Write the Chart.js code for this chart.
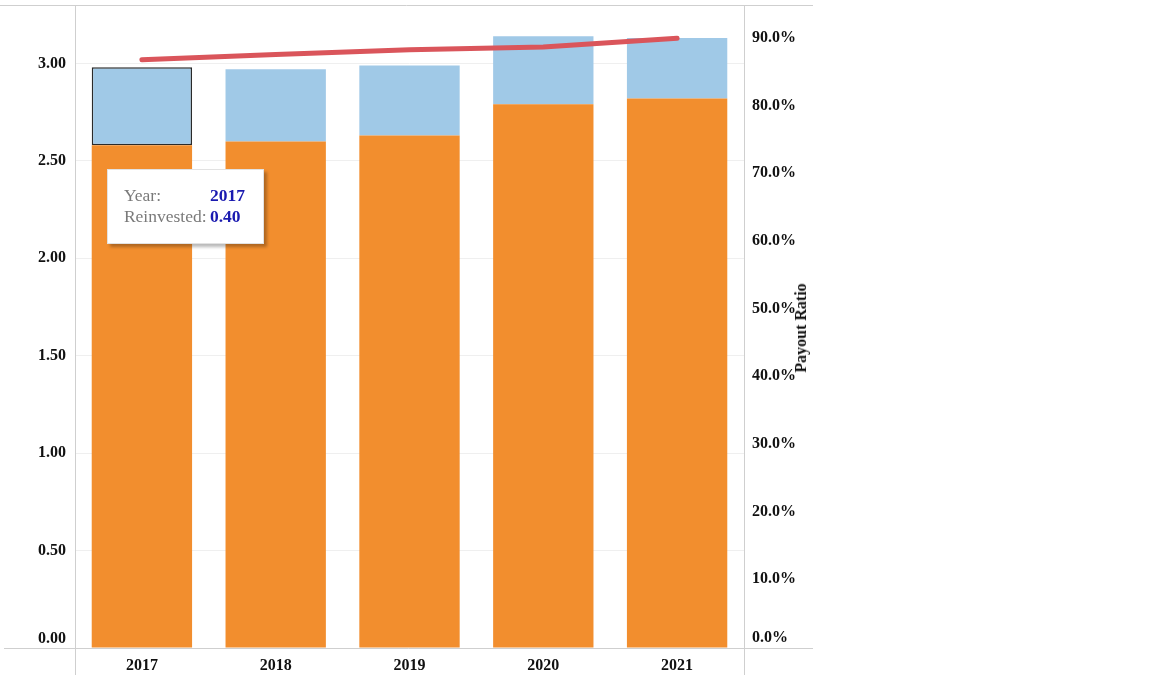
<!DOCTYPE html>
<html>
<head>
<meta charset="utf-8">
<script src="https://cdn.jsdelivr.net/npm/chart.js@4"></script>
<style>
  html, body { margin: 0; padding: 0; background: #fff; }
  #wrap { position: relative; width: 1164px; height: 691px; }
  #tip {
    position: absolute; width: 157px; height: 75px; box-sizing: border-box;
    background: #fff; border: 1px solid #e2e2e2;
    box-shadow: 3px 3px 3px rgba(0,0,0,0.28);
    font-family: "Liberation Serif", "Times New Roman", serif; font-size: 17.5px;
    padding: 15px 0 0 16px; line-height: 21px;
  }
  #tip .k { color: #7a7a7a; display: inline-block; width: 86px; }
  #tip .v { color: #1a1ab0; font-weight: bold; }
  #ytitle {
    position: absolute; left: 801px; top: 328px; white-space: nowrap;
    transform: translate(-50%, -50%) rotate(-90deg);
    font-family: "Liberation Serif", "Times New Roman", serif; font-size: 16px; font-weight: bold; color: #111;
  }
</style>
</head>
<body>
<div id="wrap">
  <canvas id="chart"></canvas>
  <div id="ytitle">Payout Ratio</div>
  <div id="tip"><span class="k">Year:</span><span class="v" id="tipYear"></span><br><span class="k">Reinvested:</span><span class="v" id="tipVal"></span></div>
</div>
<script>
// Werte
const years = ['2017', '2018', '2019', '2020', '2021'];
const dividends = [2.58, 2.60, 2.63, 2.79, 2.82];
const reinvested = [0.40, 0.37, 0.36, 0.35, 0.31];
const payoutRatio = [0.869, 0.877, 0.884, 0.888, 0.901];

const serif = '"Liberation Serif", "Times New Roman", serif';
const tickFont = { family: serif, size: 16, weight: 'bold' };

// Rahmenlinien wie im Original (ragen über die Plotfläche hinaus)
const framePlugin = {
  id: 'frame',
  afterDraw(chart) {
    const { ctx, chartArea: a } = chart;
    ctx.save();
    ctx.strokeStyle = '#cfcfcf';
    ctx.lineWidth = 1;
    ctx.beginPath();
    ctx.moveTo(0, a.top + 0.5); ctx.lineTo(a.right + 69, a.top + 0.5);
    ctx.moveTo(4, a.bottom + 0.5); ctx.lineTo(a.right + 69, a.bottom + 0.5);
    ctx.moveTo(a.left + 0.5, a.top); ctx.lineTo(a.left + 0.5, a.bottom + 27);
    ctx.moveTo(a.right + 0.5, a.top); ctx.lineTo(a.right + 0.5, a.bottom + 27);
    ctx.stroke();
    ctx.restore();
  }
};

function noPad(s) {
  s.paddingTop = 0; s.paddingBottom = 0; s.paddingLeft = 0; s.paddingRight = 0;
}

// unterstes Label etwas über die Achse heben (leere zweite Zeile)
function lift(text, v) {
  return v === 0 ? [text, ''] : text;
}

const chart = new Chart(document.getElementById('chart'), {
  type: 'bar',
  data: {
    labels: years,
    datasets: [
      { type: 'line', label: 'Payout Ratio', data: payoutRatio, yAxisID: 'y1', order: 0,
        borderColor: '#da555b', borderWidth: 5, pointRadius: 0, borderCapStyle: 'round', tension: 0 },
      { label: 'Dividend', data: dividends, backgroundColor: '#f28e2e', order: 1, stack: 's' },
      { label: 'Reinvested', data: reinvested, backgroundColor: '#a0c9e7', order: 2, stack: 's',
        borderColor: '#2a2a2a', borderWidth: years.map((y, i) => i === 0 ? 1.5 : 0), borderSkipped: false }
    ]
  },
  options: {
    responsive: true, maintainAspectRatio: false, animation: false,
    layout: { padding: { top: 5, left: 0, right: 0, bottom: 0 } },
    datasets: { bar: { barPercentage: 0.75, categoryPercentage: 1 } },
    plugins: { legend: { display: false }, tooltip: { enabled: false } },
    scales: {
      x: {
        stacked: true,
        grid: { display: false, drawTicks: false }, border: { display: false },
        ticks: { font: tickFont, color: '#111', padding: 8 },
        afterFit(s) { s.height = 43; noPad(s); }
      },
      y: {
        stacked: true, min: 0, max: 3.3, position: 'left',
        grid: { color: '#efefef', drawTicks: false }, border: { display: false },
        ticks: { stepSize: 0.5, includeBounds: false, font: tickFont, color: '#111', padding: 9,
          callback: v => lift(v.toFixed(2), v) },
        afterFit(s) { s.width = 75; noPad(s); }
      },
      y1: {
        min: 0, max: 0.95, position: 'right',
        grid: { display: false, drawTicks: false }, border: { display: false },
        ticks: { stepSize: 0.1, includeBounds: false, font: tickFont, color: '#111', padding: 8, labelOffset: -1,
          callback: v => lift((v * 100).toFixed(1) + '%', v) },
        afterFit(s) { s.width = 420; noPad(s); }
      }
    }
  },
  plugins: [framePlugin]
});

// Tooltip für 2017 / Reinvested an das Balkenelement hängen
const el = chart.getDatasetMeta(2).data[0];
const tip = document.getElementById('tip');
document.getElementById('tipYear').textContent = years[0];
document.getElementById('tipVal').textContent = reinvested[0].toFixed(2);
tip.style.left = (el.x - 35) + 'px';
tip.style.top = (el.base + 24) + 'px';
</script>
</body>
</html>
